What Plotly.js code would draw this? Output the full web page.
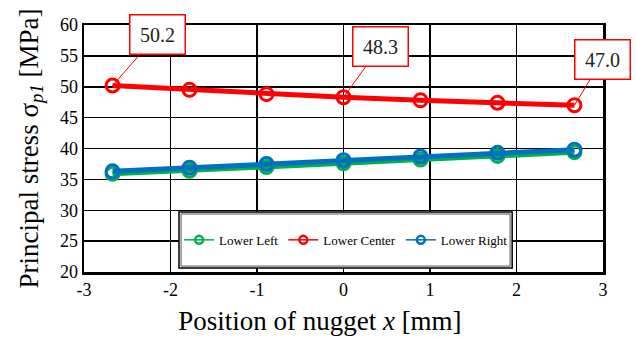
<!DOCTYPE html>
<html>
<head>
<meta charset="utf-8">
<script src="https://cdn.plot.ly/plotly-3.0.1.min.js"></script>
<style>html,body{margin:0;padding:0;background:#fff;}#chart{width:636px;height:338px;}</style>
</head>
<body>
<div id="chart"></div>
<script>
const positions = [-2.67, -1.78, -0.89, 0, 0.89, 1.78, 2.67];
const lowerLeft = [35.9, 36.4, 37.0, 37.6, 38.2, 38.8, 39.4];
const lowerCenter = [50.2, 49.5, 48.8, 48.3, 47.8, 47.4, 47.0];
const lowerRight = [36.3, 36.9, 37.5, 38.1, 38.7, 39.3, 39.8];
const seriesNames = ['Lower Left', 'Lower Center', 'Lower Right'];
const xTickVals = [-3, -2, -1, 0, 1, 2, 3];
const xTickText = ['-3', '-2', '-1', '0', '1', '2', '3'];
const labelIdx = [0, 3, 6];
const labelOffsets = [[45, -51], [37, -51], [28, -46]];

const colors = ['#00B050', '#FF0000', '#0070C0'];
const allSeries = [lowerLeft, lowerCenter, lowerRight];
const font = 'Liberation Serif, Times New Roman, Times, serif';

const traces = allSeries.map((ys, i) => ({
  x: positions, y: ys, name: seriesNames[i], type: 'scatter', mode: 'lines+markers',
  showlegend: false,
  line: {color: colors[i], width: 5},
  marker: {symbol: 'circle-open', size: 13, color: colors[i], line: {width: 3, color: colors[i]}}
}));
// legend-only entries (thin style as in the reference legend)
seriesNames.forEach((nm, i) => traces.push({
  x: [null], y: [null], name: nm, type: 'scatter', mode: 'lines+markers', showlegend: true,
  line: {color: colors[i], width: 1.5},
  marker: {symbol: 'circle-open', size: 8, color: colors[i], line: {width: 2.5, color: colors[i]}}
}));

const annotations = labelIdx.map((k, j) => ({
  x: positions[k], y: lowerCenter[k], xref: 'x', yref: 'y',
  text: lowerCenter[k].toFixed(1),
  showarrow: true, arrowhead: 0, arrowwidth: 1, arrowcolor: '#FF0000',
  ax: labelOffsets[j][0], ay: labelOffsets[j][1],
  bgcolor: '#FFFFFF', bordercolor: '#FF0000', borderwidth: 1.5,
  width: 38, height: 22, borderpad: 8,
  font: {family: font, size: 20, color: '#222'}
}));

const pad = '&nbsp;'.repeat(7);

const layout = {
  width: 636, height: 338,
  margin: {l: 84, r: 33, t: 25, b: 66},
  paper_bgcolor: '#fff', plot_bgcolor: '#fff',
  font: {family: font, color: '#000'},
  showlegend: true,
  legend: {orientation: 'h', x: 0.505, xanchor: 'center', y: 0.13, yanchor: 'middle',
    bgcolor: 'rgba(0,0,0,0)', borderwidth: 0, font: {family: font, size: 13, color: '#000'},
    itemwidth: 30, tracegroupgap: 0},
  xaxis: {range: [-3, 3], tickmode: 'array', tickvals: xTickVals, ticktext: xTickText,
    showgrid: true, gridcolor: '#000', gridwidth: 1.5,
    showline: true, linecolor: '#000', linewidth: 2.5, mirror: true, zeroline: false, ticks: '',
    tickfont: {family: font, size: 18, color: '#000'},
    title: {text: 'Position of nugget <i>x</i> [mm]' + pad, font: {family: font, size: 27, color: '#000'}, standoff: 12}},
  yaxis: {range: [20, 60], dtick: 5, showgrid: true, gridcolor: '#000', gridwidth: 1.5,
    showline: true, linecolor: '#000', linewidth: 2.5, mirror: true, zeroline: false, ticks: '',
    tickfont: {family: font, size: 18, color: '#000'},
    title: {text: 'Principal stress σ<sub><i>p1</i></sub> [MPa]', font: {family: font, size: 27, color: '#000'}, standoff: 14}},
  shapes: [
    {type: 'rect', xref: 'paper', yref: 'paper', x0: 0.183, x1: 0.825, y0: 0.016, y1: 0.243,
      line: {color: '#000', width: 1.5}, fillcolor: '#fff', layer: 'above'},
    {type: 'rect', xref: 'paper', yref: 'paper', x0: 0.187, x1: 0.821, y0: 0.024, y1: 0.235,
      line: {color: '#555', width: 1}, fillcolor: 'rgba(0,0,0,0)', layer: 'above'}
  ],
  annotations: annotations
};

Plotly.newPlot('chart', traces, layout, {displayModeBar: false, staticPlot: true});
</script>
</body>
</html>
